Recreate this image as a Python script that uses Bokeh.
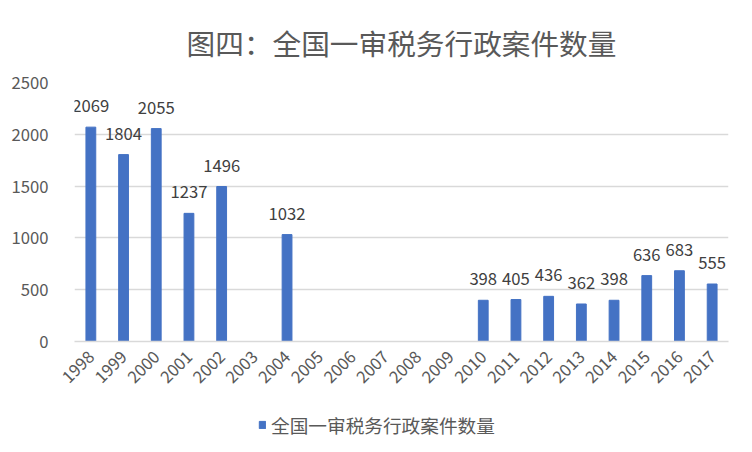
import math
from bokeh.plotting import figure
from bokeh.layouts import column
from bokeh.models import ColumnDataSource, LabelSet, Legend, LegendItem, FactorRange
from bokeh.core.properties import value
from bokeh.embed import file_html
from bokeh.resources import INLINE

title_text = "图四：全国一审税务行政案件数量"
series_name = "全国一审税务行政案件数量"
years = ["1998", "1999", "2000", "2001", "2002", "2003", "2004", "2005", "2006", "2007",
         "2008", "2009", "2010", "2011", "2012", "2013", "2014", "2015", "2016", "2017"]
cases = [2069, 1804, 2055, 1237, 1496, None, 1032, None, None, None,
         None, None, 398, 405, 436, 362, 398, 636, 683, 555]
y_ticks = [0, 500, 1000, 1500, 2000, 2500]

present = [(y, v) for y, v in zip(years, cases) if v is not None]
src = ColumnDataSource(dict(year=[p[0] for p in present],
                            value=[p[1] for p in present],
                            label=[str(p[1]) for p in present]))

FONT = "Noto Sans CJK SC"
GREY = "#595959"
BLUE = "#4472C4"

p = figure(width=752, height=400, frame_width=654, frame_height=259,
           x_range=FactorRange(*years), y_range=(0, 2500),
           output_backend="svg", toolbar_location=None,
           min_border_left=74, min_border_right=24, min_border_top=82, min_border_bottom=0,
           outline_line_color=None, border_fill_color="white")

p.title.text = title_text
p.title.align = "center"
p.title.text_font = FONT
p.title.text_font_size = "21.5pt"
p.title.text_font_style = "normal"
p.title.text_color = GREY
p.title.offset = 0
p.title.standoff = 39

r = p.vbar(x="year", top="value", width=0.3, source=src, color=BLUE)

labels = LabelSet(x="year", y="value", text="label", source=src, y_offset=15,
                  text_align="center", text_baseline="alphabetic",
                  text_font=value(FONT), text_font_size="12.5pt", text_color="#404040")
p.add_layout(labels)

p.yaxis.ticker = y_ticks
p.yaxis.axis_line_color = None
p.yaxis.major_tick_line_color = None
p.yaxis.minor_tick_line_color = None
p.yaxis.major_label_text_font = FONT
p.yaxis.major_label_text_font_size = "12.5pt"
p.yaxis.major_label_text_color = GREY
p.yaxis.major_label_standoff = 20

p.xaxis.axis_line_color = "#d9d9d9"
p.xaxis.axis_line_width = 1.5
p.xaxis.major_tick_line_color = None
p.xaxis.minor_tick_line_color = None
p.xaxis.major_label_orientation = math.pi / 4
p.xaxis.major_label_text_font = FONT
p.xaxis.major_label_text_font_size = "12.5pt"
p.xaxis.major_label_text_color = GREY
p.xaxis.major_label_standoff = 6

p.xgrid.grid_line_color = None
p.ygrid.grid_line_color = "#d9d9d9"
p.ygrid.grid_line_width = 1.5
p.x_range.range_padding = 0

# legend strip below the chart (the series is drawn here out of view so the legend has its swatch)
lg = figure(width=752, height=52, x_range=FactorRange(*years), y_range=(5000, 6000),
            output_backend="svg", toolbar_location=None,
            x_axis_location=None, y_axis_location=None,
            min_border=0, outline_line_color=None, border_fill_color="white")
lg.xgrid.grid_line_color = None
lg.ygrid.grid_line_color = None
swatch = lg.vbar(x="year", top="value", width=0.3, source=src, color=BLUE)
legend = Legend(items=[LegendItem(label=series_name, renderers=[swatch])],
                orientation="horizontal", location=(184, 5),
                label_text_font=FONT, label_text_font_size="14pt", label_text_color=GREY,
                label_standoff=5, glyph_width=8, glyph_height=9,
                border_line_color=None, background_fill_alpha=0, padding=0, margin=0)
lg.add_layout(legend)

layout = column(p, lg, spacing=0)
open("out.html", "w").write(file_html(layout, INLINE))
